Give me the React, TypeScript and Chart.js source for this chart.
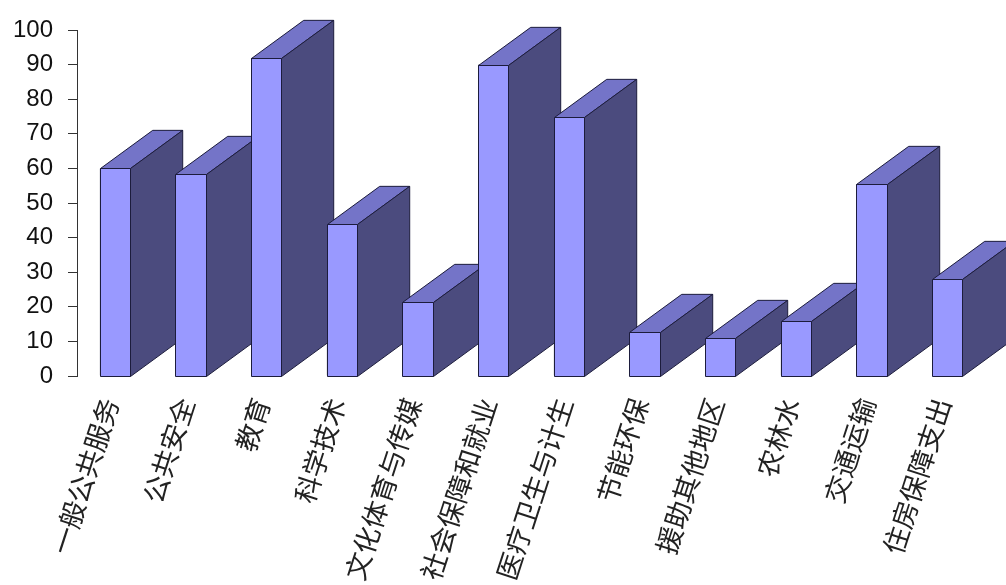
import React, { useEffect, useRef } from "react";
import { Chart, registerables } from "chart.js";

Chart.register(...registerables);

const categories = [
  "一般公共服务",
  "公共安全",
  "教育",
  "科学技术",
  "文化体育与传媒",
  "社会保障和就业",
  "医疗卫生与计生",
  "节能环保",
  "援助其他地区",
  "农林水",
  "交通运输",
  "住房保障支出",
];
const values = [60, 58.5, 92, 44, 21.5, 90, 75, 12.8, 11, 16, 55.5, 28];
const yTicks = [0, 10, 20, 30, 40, 50, 60, 70, 80, 90, 100];

const FRONT = "#9999FF";
const TOP = "#7474C8";
const SIDE = "#4B4B7E";
const EDGE = "#1C1C3C";

const bar3d = {
  id: "bar3d",
  afterDatasetsDraw(chart: any) {
    const ctx = chart.ctx;
    const meta = chart.getDatasetMeta(0);
    const xs = chart.scales.x;
    const cat = (xs.right - xs.left) / categories.length;
    const dx = cat * 0.69;
    const dy = dx * (38 / 52);
    ctx.save();
    ctx.lineWidth = 1;
    ctx.strokeStyle = EDGE;
    ctx.lineJoin = "miter";
    meta.data.forEach((el: any) => {
      const { x, y, base, width } = el.getProps(["x", "y", "base", "width"], true);
      const l = Math.round(x - width / 2) + 0.5;
      const r = Math.round(x + width / 2) + 0.5;
      const t = Math.round(y) + 0.5;
      const b = Math.round(base) + 0.5;
      // top face
      ctx.beginPath();
      ctx.moveTo(l, t);
      ctx.lineTo(r, t);
      ctx.lineTo(r + dx, t - dy);
      ctx.lineTo(l + dx, t - dy);
      ctx.closePath();
      ctx.fillStyle = TOP;
      ctx.fill();
      ctx.stroke();
      // side face
      ctx.beginPath();
      ctx.moveTo(r, t);
      ctx.lineTo(r + dx, t - dy);
      ctx.lineTo(r + dx, b - dy);
      ctx.lineTo(r, b);
      ctx.closePath();
      ctx.fillStyle = SIDE;
      ctx.fill();
      ctx.stroke();
      // front face
      ctx.beginPath();
      ctx.rect(l, t, r - l, b - t);
      ctx.fillStyle = FRONT;
      ctx.fill();
      ctx.stroke();
    });
    ctx.restore();
  },
};

export default function App() {
  const ref = useRef<HTMLCanvasElement>(null);
  useEffect(() => {
    if (!ref.current) return;
    const chart = new Chart(ref.current, {
      type: "bar",
      data: {
        labels: categories,
        datasets: [
          {
            data: values,
            backgroundColor: FRONT,
            borderColor: EDGE,
            borderWidth: 1,
            barPercentage: 0.4,
            categoryPercentage: 1,
          },
        ],
      },
      options: {
        responsive: false,
        animation: false,
        devicePixelRatio: 1,
        layout: { padding: { top: 30, right: 21, left: 0, bottom: 0 } },
        plugins: { legend: { display: false }, tooltip: { enabled: false } },
        scales: {
          x: {
            grid: { display: false, drawTicks: false },
            border: { display: false },
            ticks: {
              autoSkip: false,
              minRotation: 72,
              maxRotation: 72,
              padding: 18,
              labelOffset: -5,
              color: "#222",
              font: { family: "'Noto Sans CJK SC', sans-serif", size: 27 },
            },
            afterFit(scale: any) {
              scale.height = 209;
            },
          },
          y: {
            min: 0,
            max: 100,
            afterBuildTicks(scale: any) {
              scale.ticks = yTicks.map((v) => ({ value: v }));
            },
            grid: {
              display: true,
              drawOnChartArea: false,
              drawTicks: true,
              tickLength: 9,
              tickColor: "#333",
            },
            border: { display: true, color: "#333", width: 1 },
            ticks: {
              padding: 15,
              color: "#111",
              font: { family: "'Liberation Sans', Arial, sans-serif", size: 24 },
            },
            afterFit(scale: any) {
              scale.width = 77;
            },
          },
        },
      },
      plugins: [bar3d],
    });
    return () => chart.destroy();
  }, []);
  return (
    <div style={{ position: "absolute", left: 0, top: 0, width: 1006, height: 585, background: "#fff" }}>
      <canvas ref={ref} width={1006} height={585} style={{ display: "block" }} />
    </div>
  );
}
